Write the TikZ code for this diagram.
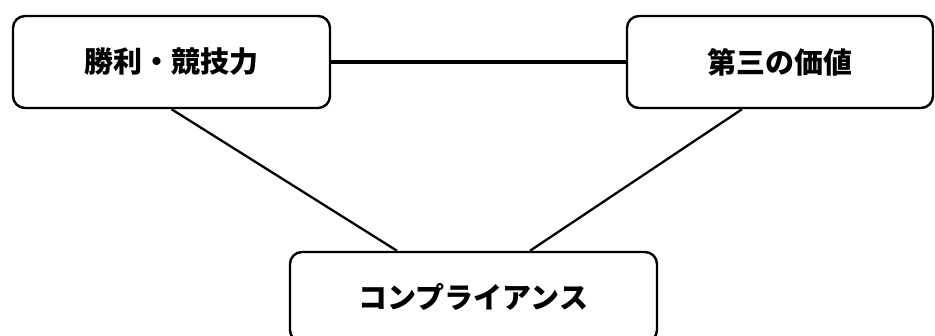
\documentclass[tikz,border=0pt]{standalone}
\usepackage{fontspec}
\newfontfamily\cjk{Noto Sans CJK JP}
\tikzset{
  box/.style={draw=black, line width=2.4pt, rounded corners=12pt, fill=white,
    inner sep=0pt, font=\cjk\bfseries\fontsize{29pt}{32pt}\selectfont},
  link/.style={draw=black, line width=2.3pt},
  thick link/.style={draw=black, line width=3.2pt}
}
\begin{document}
\begin{tikzpicture}[x=1pt,y=-1pt]
\useasboundingbox (0,0) rectangle (935,336);
\node[box, minimum width=317pt, minimum height=92pt] (lb) at (171.5,62) {勝利・競技力};
\node[box, minimum width=306pt, minimum height=92pt] (rb) at (780,62) {第三の価値};
\node[box, minimum width=367pt, minimum height=90pt] (bt) at (473.5,297) {コンプライアンス};
\draw[thick link] (lb.east) -- (rb.west);
\draw[link] (lb.south) -- ([xshift=-76.5pt]bt.north);
\draw[link] ([xshift=-38pt]rb.south) -- ([xshift=56.5pt]bt.north);
\end{tikzpicture}
\end{document}
